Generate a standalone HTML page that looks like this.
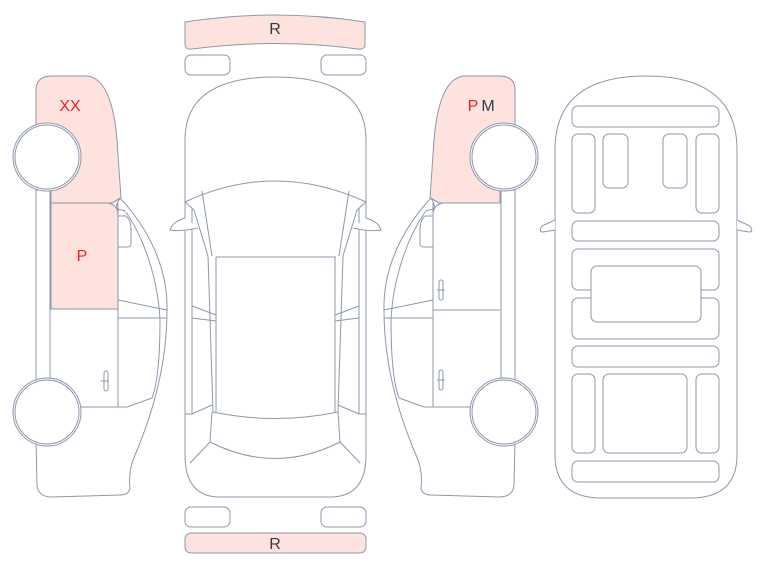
<!DOCTYPE html>
<html><head><meta charset="utf-8"><style>
html,body{margin:0;padding:0;background:#fff;width:769px;height:565px;overflow:hidden}
svg{display:block}
text{font-family:"Liberation Sans",sans-serif;font-size:16px;text-anchor:middle}
</style></head><body>
<svg width="769" height="565" viewBox="0 0 769 565" xmlns="http://www.w3.org/2000/svg">
<defs>
<g id="side" fill="none" stroke="#8d97ab" stroke-width="1">
  <path d="M120,198 C150,230 168,270 167,310 C167,370 150,420 135,455 Q128,470 130,488 Q129,495 120,495 L52,497 Q38,497 37,485 L36,440"/>
  <path d="M120,198 L112,203"/>
  <path d="M120,198 C110,215 125,207 125,212"/>
  <path d="M126,212 C145,240 158,280 160,320 C160,360 157,385 152,398 L127,407"/>
  <path d="M118,216 L126,216 Q131,220 131,230 L131,244 Q131,247 127,247 L118,247"/>
  <path d="M118,300 L167,310 M118,318 L167,318"/>
  <path d="M118,203 L118,407 M80,407 L127,407 M118,407 L127,407"/>
  <path d="M36,190 L36,380 M50,190 L50,380"/>
  <circle cx="47" cy="412" r="34" fill="#fff"/>
  <circle cx="47" cy="412" r="32"/>
</g>
</defs>

<path d="M36,122 L36,90 Q36,76 52,76 L88,76 Q112,80 117,140 L121,198 L112,203 L51,203 L51,190 L36,190 Z" fill="#fde2de" stroke="#8d97ab"/>
<path d="M51,203 L108,203 Q118,205 118,215 L118,309 L51,309 Z" fill="#fde2de" stroke="#8d97ab"/>
<use href="#side"/>
<circle cx="47" cy="157" r="34" fill="#fff" stroke="#8d97ab"/>
<circle cx="47" cy="157" r="32" fill="none" stroke="#8d97ab"/>
<path d="M101,381 L109,381" stroke="#8d97ab" fill="none"/>
<rect x="104" y="371" width="4" height="20" rx="2" fill="none" stroke="#8d97ab"/>
<text x="70" y="111" fill="#e8242a">XX</text>
<text x="82" y="261" fill="#e8242a">P</text>

<g transform="translate(551,0) scale(-1,1)">
<path d="M36,122 L36,90 Q36,76 52,76 L88,76 Q112,80 117,140 L121,198 L112,203 L51,203 L51,190 L36,190 Z" fill="#fde2de" stroke="#8d97ab"/>
<path d="M51,203 L108,203 Q118,205 118,215" fill="none" stroke="#8d97ab"/>
<path d="M51,310 L118,310" fill="none" stroke="#8d97ab"/>
<use href="#side"/>
<circle cx="47" cy="157" r="34" fill="#fff" stroke="#8d97ab"/>
<circle cx="47" cy="157" r="32" fill="none" stroke="#8d97ab"/>
<rect x="108" y="280" width="4" height="20" rx="2" fill="none" stroke="#8d97ab"/>
<path d="M106,290 L114,290" stroke="#8d97ab"/>
<rect x="108" y="370" width="4" height="20" rx="2" fill="none" stroke="#8d97ab"/>
<path d="M106,380 L114,380" stroke="#8d97ab"/>
</g>
<text x="473" y="111" fill="#e8242a">P</text>
<text x="488" y="111" fill="#333a48">M</text>

<g fill="none" stroke="#8d97ab" stroke-width="1">
  <path d="M185,22 Q275,8 365,22 L365,44 Q365,50 358,49 Q275,38 192,49 Q185,50 185,44 Z" fill="#fde2de"/>
  <rect x="185" y="55" width="45" height="20" rx="6"/>
  <rect x="321" y="55" width="45" height="20" rx="6"/>
  <rect x="185" y="507" width="45" height="20" rx="6"/>
  <rect x="321" y="507" width="45" height="20" rx="6"/>
  <rect x="185" y="533" width="181" height="20" rx="6" fill="#fde2de"/>
  <path d="M185,140 Q185,77 275,77 Q366,77 366,140 L366,455 Q366,497 330,497 L220,497 Q185,497 185,455 Z"/>
  <path d="M185,202 Q275,160 366,202 L357,210 L343,256 L338,412 Q275,425 213,412 L208,256 L194,210 Z"/>
  <path d="M202,191 L212,256 M349,191 L339,256 M216,257 L336,257"/>
  <path d="M192,208 L192,414 L185,414 M359,208 L359,414 L366,414 M192,414 L212,405 M359,414 L338,405"/>
  <path d="M212,412 L210,442 Q275,475 340,442 L338,412 M210,442 L190,463 M340,442 L360,463"/>
  <path d="M192,306 L216,315 M192,318 L216,321 M359,306 L335,315 M359,318 L335,321 M216,257 L216,412 M335,257 L335,412"/>
  <path d="M185,218 Q172,222 170,230 Q180,232 198,228" fill="#fff"/>
  <path d="M366,218 Q379,222 381,230 Q371,232 353,228" fill="#fff"/>
</g>
<text x="275" y="34" fill="#333a48">R</text>
<text x="275" y="549" fill="#333a48">R</text>

<g fill="none" stroke="#8d97ab" stroke-width="1">
  <path d="M555,150 Q555,76 646,76 Q737,76 737,150 L737,455 Q737,498 690,498 L602,498 Q555,498 555,455 Z"/>
  <path d="M555,220 L542,226 Q538,232 543,232 L555,230 M737,220 L750,226 Q754,232 749,232 L737,230" fill="#fff"/>
  <rect x="572" y="106" width="147" height="21" rx="6"/>
  <rect x="572" y="134" width="23" height="79" rx="6"/>
  <rect x="603" y="134" width="25" height="54" rx="6"/>
  <rect x="663" y="134" width="24" height="54" rx="6"/>
  <rect x="696" y="134" width="23" height="79" rx="6"/>
  <rect x="572" y="221" width="147" height="20" rx="6"/>
  <rect x="572" y="249" width="147" height="41" rx="6"/>
  <rect x="572" y="298" width="147" height="41" rx="6"/>
  <rect x="591" y="266" width="110" height="56" rx="6" fill="#fff"/>
  <rect x="572" y="346" width="147" height="21" rx="6"/>
  <rect x="572" y="374" width="23" height="79" rx="6"/>
  <rect x="603" y="374" width="84" height="79" rx="6"/>
  <rect x="696" y="374" width="23" height="79" rx="6"/>
  <rect x="572" y="461" width="147" height="21" rx="6"/>
</g>
</svg>
</body></html>
